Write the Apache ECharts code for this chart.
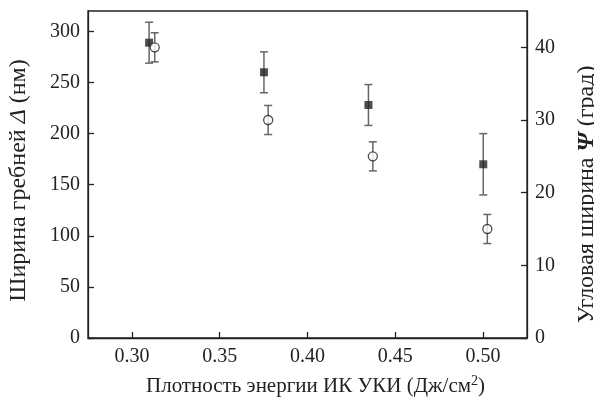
<!DOCTYPE html>
<html><head><meta charset="utf-8">
<script src="https://cdn.jsdelivr.net/npm/echarts@6/dist/echarts.min.js"></script>
<style>html,body{margin:0;padding:0;background:#fff}#c{width:594px;height:400px}</style>
</head><body><div id="c"></div>
<script>
// Width of ridges Δ (nm), left axis
const xWidth = [0.3098, 0.3752, 0.4347, 0.5001];
const widthVals = [289, 260, 228, 170];
const widthErr = [20, 20, 20, 30];
// Angular width Ψ (deg), right axis
const xAngle = [0.313, 0.3776, 0.4372, 0.5024];
const angleVals = [40, 30, 25, 15];
const angleErr = [2, 2, 2, 2];
const xTicks = [0.30, 0.35, 0.40, 0.45, 0.50];
const leftTicks = [0, 50, 100, 150, 200, 250, 300];
const rightTicks = [0, 10, 20, 30, 40];

const font = 'Liberation Serif';
const fs = 20;
const fsX = 21;
const fsName = 24;
const chart = echarts.init(document.getElementById('c'), null, {renderer: 'canvas'});

function errData(xs, ys, es) {
  return xs.map((x, i) => [x, ys[i] - es[i], ys[i] + es[i]]);
}
function errRender(params, api) {
  const x = api.value(0);
  const lo = api.coord([x, api.value(1)]);
  const hi = api.coord([x, api.value(2)]);
  const w = 4;
  const st = {stroke: '#666', lineWidth: 1.5};
  return {type: 'group', children: [
    {type: 'line', shape: {x1: lo[0], y1: lo[1], x2: hi[0], y2: hi[1]}, style: st},
    {type: 'line', shape: {x1: lo[0] - w, y1: lo[1], x2: lo[0] + w, y2: lo[1]}, style: st},
    {type: 'line', shape: {x1: hi[0] - w, y1: hi[1], x2: hi[0] + w, y2: hi[1]}, style: st}
  ]};
}

const axisLineStyle = {color: '#222', width: 1.3};
const labelStyle = {color: '#222', fontFamily: font, fontSize: fs};

chart.setOption({
  animation: false,
  backgroundColor: '#fff',
  grid: {left: 88, right: 67, top: 11, bottom: 62, show: true, borderColor: '#222', borderWidth: 1.3,
         outerBoundsMode: 'none', containLabel: false},
  xAxis: {
    type: 'value', min: 0.275, max: 0.525,
    axisLine: {show: true, lineStyle: axisLineStyle},
    axisTick: {show: true, inside: true, length: 6, customValues: xTicks, lineStyle: axisLineStyle},
    axisLabel: {customValues: xTicks, formatter: v => v.toFixed(2), margin: 9, ...labelStyle},
    splitLine: {show: false},
    name: '{n|Плотность энергии ИК УКИ (Дж/см}{s|2}{n|)}',
    nameLocation: 'middle', nameGap: 36,
    nameTextStyle: {padding: [0, 0, 0, 16], rich: {n: {fontFamily: font, fontSize: fsX, color: '#222'}, s: {fontFamily: font, fontSize: 14, color: '#222', verticalAlign: 'top', padding: [0, 0, 10, 0]}}}
  },
  yAxis: [{
    type: 'value', min: 0, max: 320, position: 'left',
    axisLine: {show: true, lineStyle: axisLineStyle},
    axisTick: {show: true, inside: true, length: 6, customValues: leftTicks, lineStyle: axisLineStyle},
    axisLabel: {customValues: leftTicks, margin: 8, ...labelStyle},
    splitLine: {show: false},
    name: '{n|Ширина гребней }{i|Δ}{n| (нм)}',
    nameLocation: 'middle', nameGap: 57, nameRotate: 90,
    nameTextStyle: {padding: [0, 12, 0, 0], rich: {n: {fontFamily: font, fontSize: fsName, color: '#222'}, i: {fontFamily: font, fontSize: fsName, fontStyle: 'italic', color: '#222'}}}
  }, {
    type: 'value', min: 0, max: 45, position: 'right',
    axisLine: {show: true, lineStyle: axisLineStyle},
    axisTick: {show: true, inside: true, length: 6, customValues: rightTicks, lineStyle: axisLineStyle},
    axisLabel: {customValues: rightTicks, margin: 8, ...labelStyle},
    splitLine: {show: false},
    name: '{n|Угловая ширина }{i|Ψ}{n| (град)}',
    nameLocation: 'middle', nameGap: 48, nameRotate: 90,
    nameTextStyle: {padding: [0, 40, 0, 0], rich: {n: {fontFamily: font, fontSize: fsName, color: '#222'}, i: {fontFamily: font, fontSize: fsName, fontStyle: 'italic', fontWeight: 'bold', color: '#222'}}}
  }],
  series: [
    {type: 'custom', yAxisIndex: 0, renderItem: errRender, data: errData(xWidth, widthVals, widthErr), z: 1},
    {type: 'custom', yAxisIndex: 1, renderItem: errRender, data: errData(xAngle, angleVals, angleErr), z: 1},
    {type: 'scatter', yAxisIndex: 0, symbol: 'rect', symbolSize: 8,
     itemStyle: {color: '#222'}, data: xWidth.map((x, i) => [x, widthVals[i]]), z: 3},
    {type: 'scatter', yAxisIndex: 1, symbol: 'circle', symbolSize: 9,
     itemStyle: {color: '#fff', borderColor: '#222', borderWidth: 1.3}, data: xAngle.map((x, i) => [x, angleVals[i]]), z: 3}
  ]
});
</script></body></html>
